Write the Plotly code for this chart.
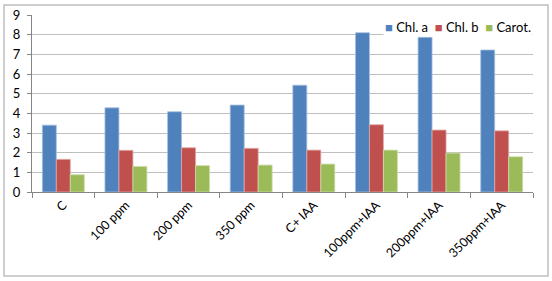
import plotly.graph_objects as go

categories = ["C", "100 ppm", "200 ppm", "350 ppm", "C+ IAA", "100ppm+IAA", "200ppm+IAA", "350ppm+IAA"]
series_names = ["Chl. a", "Chl. b", "Carot."]
chl_a = [3.4, 4.28, 4.08, 4.42, 5.43, 8.1, 7.87, 7.22]
chl_b = [1.66, 2.12, 2.25, 2.22, 2.13, 3.42, 3.15, 3.11]
carot = [0.88, 1.30, 1.34, 1.37, 1.42, 2.13, 1.98, 1.79]
colors = ["#4F81BD", "#C0504D", "#9BBB59"]
edges = ["#A7C0DE", "#DFA7A6", "#CDDDAC"]

W, H = 552, 281
L, R, T, B = 32, 19, 15, 89
pw, ph = W - L - R, H - T - B

fig = go.Figure()
for name, vals, col, line in zip(series_names, [chl_a, chl_b, carot], colors, edges):
    fig.add_trace(go.Bar(name=name, x=categories, y=vals, showlegend=False,
                         marker=dict(color=col, line=dict(color=line, width=0.8))))

legend_text = "&nbsp;&nbsp;".join(
    f"<span style='color:{c}'>■</span>&nbsp;{n}" for n, c in zip(series_names, colors))

fig.update_layout(
    width=W, height=H,
    margin=dict(l=L, r=R, t=T, b=B, autoexpand=False),
    barmode="group", bargap=0.33, bargroupgap=0,
    paper_bgcolor="white", plot_bgcolor="white",
    font=dict(family="Lato, Liberation Sans, sans-serif", size=12, color="#000000"),
    xaxis=dict(type="category", tickangle=-45, showline=True, linecolor="#868686", linewidth=1,
               ticks="outside", ticklen=5, tickcolor="#868686", tickson="boundaries",
               showgrid=False, tickfont=dict(size=12.5), automargin=False),
    yaxis=dict(range=[0, 9], dtick=1, showline=True, linecolor="#868686", linewidth=1,
               ticks="outside", ticklen=4, tickcolor="#868686", ticklabelstandoff=4,
               showgrid=True, gridcolor="#BFBFBF", gridwidth=1, zeroline=False,
               tickfont=dict(size=13), automargin=False),
    annotations=[dict(text=legend_text, xref="paper", yref="paper", x=1.0, y=(192 - 27) / 177,
                      xanchor="right", yanchor="middle", showarrow=False,
                      font=dict(size=13), bgcolor="white")],
    shapes=[dict(type="rect", xref="paper", yref="paper",
                 x0=(4 - L) / pw, x1=(548 - L) / pw,
                 y0=(H - B - 276) / ph, y1=(H - B - 5) / ph,
                 line=dict(color="#BFBFBF", width=1.5), fillcolor="rgba(0,0,0,0)", layer="below")],
)

fig.write_html("out.html", config={"displayModeBar": False},
               post_script="document.body.style.margin='0';document.body.style.overflow='hidden';")
